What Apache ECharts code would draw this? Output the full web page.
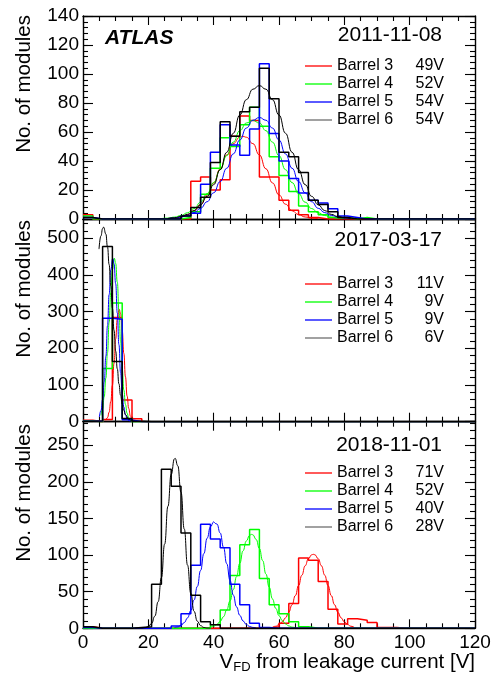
<!DOCTYPE html>
<html><head><meta charset="utf-8">
<script src="https://cdn.jsdelivr.net/npm/echarts@6/dist/echarts.min.js"></script>
<style>html,body{margin:0;padding:0;background:#fff;}#c{width:491px;height:682px;}</style>
</head><body><div id="c"></div>
<script>
// ---------- data ----------
const binLefts = [0,3,6,9,12,15,18,21,24,27,30,33,36,39,42,45,48,51,54,57,60,63,66,69,72,75,78,81,84,87,90,93,96,99,102,105,108,111,114,117];
const binWidth = 3;
const barrelNames = ['Barrel 3','Barrel 4','Barrel 5','Barrel 6'];
const dates = ['2011-11-08','2017-03-17','2018-11-01'];
const volts2011 = ['49V','52V','54V','54V'];
const volts2017 = ['11V','9V','9V','6V'];
const volts2018 = ['71V','52V','40V','28V'];
const yMaxes = [140, 552, 282];
const yMajorSteps = [20, 100, 50];

// histograms, 2011-11-08
const h2011_B3 = [3,0,0,0,0,0,0,0,0,0, 0,26,29,20,27,57,71,68,29,29, 13,6,3,1,0,0,0,0,0,0, 0,0,0,0,0,0,0,0,0,0];
const h2011_B4 = [2,0,0,0,0,0,0,0,0,0, 1,5,17,35,56,50,65,77,64,43, 30,19,9,5,3,1,1,0,1,0, 0,0,0,0,0,0,0,0,0,0];
const h2011_B5 = [1,0,0,0,0,0,0,0,0,0, 2,4,24,46,65,51,44,62,107,59, 40,28,18,13,11,7,2,1,0,0, 0,0,0,0,0,0,0,0,0,0];
const h2011_B6 = [1,0,0,0,0,0,0,0,0,0, 2,8,15,39,67,57,74,77,104,83, 46,43,32,13,10,5,1,0,0,0, 0,0,0,0,0,0,0,0,0,0];
// histograms, 2017-03-17
const h2017_B3 = [4,0,6,284,59,8,0,0,0,0, 0,0,0,0,0,0,0,0,0,0, 0,0,0,0,0,0,0,0,0,0, 0,0,0,0,0,0,0,0,0,0];
const h2017_B4 = [2,0,145,323,8,0,0,0,0,0, 0,0,0,0,0,0,0,0,0,0, 0,0,0,0,0,0,0,0,0,0, 0,0,0,0,0,0,0,0,0,0];
const h2017_B5 = [1,2,282,279,5,0,0,0,0,0, 0,0,0,0,0,0,0,0,0,0, 0,0,0,0,0,0,0,0,0,0, 0,0,0,0,0,0,0,0,0,0];
const h2017_B6 = [1,2,477,164,9,1,0,0,0,0, 0,0,0,0,0,0,0,0,0,0, 0,0,0,0,0,0,0,0,0,0, 0,0,0,0,0,0,0,0,0,0];
// histograms, 2018-11-01
const h2018_B3 = [2,0,0,0,0,0,0,0,0,0, 0,0,0,0,0,0,0,0,0,2, 7,34,96,93,64,26,6,13,11,8, 1,1,0,0,0,0,0,0,0,0];
const h2018_B4 = [0,0,0,0,0,0,0,0,0,0, 0,0,0,5,25,72,114,135,68,32, 20,9,2,0,0,0,0,0,0,0, 0,0,0,0,0,0,0,0,0,0];
const h2018_B5 = [1,0,0,0,0,0,0,0,0,3, 20,86,142,122,110,60,32,7,1,0, 0,0,0,0,0,0,0,0,0,0, 0,0,0,0,0,0,0,0,0,0];
const h2018_B6 = [2,0,0,0,0,1,2,60,217,194, 130,45,9,5,0,0,0,0,0,0, 0,0,0,0,0,0,0,0,0,0, 0,0,0,0,0,0,0,0,0,0];

// fitted curves (x, y)
const f2011_B3_x = [26,28,30,32,34,36,38,40,42,44,46,48,49,50,52,54,56,58,60,62,64,66,68,70,72];
const f2011_B3_y = [0.2,0.6,1.4,3.0,5.7,10.2,16.6,24.9,34.6,44.2,52.0,56.4,57,56.4,52.0,44.2,34.6,24.9,16.6,10.2,5.7,3.0,1.4,0.6,0.2];
const f2011_B4_x = [24,26,28,30,32,34,36,38,40,42,44,46,48,50,52,54,56,58,60,62,64,66,68,70,72,74,76,78,80];
const f2011_B4_y = [0.3,0.6,1.3,2.4,4.3,7.2,11.6,17.5,25.1,34.0,43.7,53.0,60.9,66.2,68,66.2,60.9,53.0,43.7,34.0,25.1,17.5,11.6,7.2,4.3,2.4,1.3,0.6,0.3];
const f2011_B5_x = [26,28,30,32,34,36,38,40,42,44,46,48,50,52,54,56,58,60,62,64,66,68,70,72,74,76,78,80,82];
const f2011_B5_y = [0.3,0.7,1.3,2.5,4.4,7.4,11.9,18.1,25.8,35.0,44.9,54.5,62.7,68.1,70,68.1,62.7,54.5,44.9,35.0,25.8,18.1,11.9,7.4,4.4,2.5,1.3,0.7,0.3];
const f2011_B6_x = [26,28,30,32,34,36,38,40,42,44,46,48,50,52,54,56,58,60,62,64,66,68,70,72,74,76,78,80,82];
const f2011_B6_y = [0.4,0.9,1.7,3.2,5.8,9.8,15.6,23.7,34.0,46.0,59.1,71.7,82.3,89.5,92,89.5,82.3,71.7,59.1,46.0,34.0,23.7,15.6,9.8,5.8,3.2,1.7,0.9,0.4];

const f2017_B3_x = [7,7.5,8,8.5,9,9.5,10,10.5,11.1,11.5,12,12.5,13,13.5,14,14.5,15,15.5,16];
const f2017_B3_y = [4,11,26,55,99,159,225,279,306,294,249,186,122,70,36,16,6,2,0.5];
const f2017_B4_x = [5.5,6,6.5,7,7.5,8,8.5,9,9.6,10,10.5,11,11.5,12,12.5,13,13.5,14,14.5,15];
const f2017_B4_y = [17,35,68,119,188,270,351,415,445,431,380,303,220,145,86,47,23,10,4,1.5];
const f2017_B5_x = [5,5.5,6,6.5,7,7.5,8,8.5,9.1,9.5,10,10.5,11,11.5,12,12.5,13,13.5,14,14.5];
const f2017_B5_y = [13,30,60,109,178,261,346,413,445,430,376,296,210,134,77,40,19,8,3,1];
const f2017_B6_x = [4.9,5.5,6,6.3,7,7.5,8,8.5,9,9.5,10,10.5,11,11.5,12,12.5,13,14,15,16];
const f2017_B6_y = [470,506,526,530,511,476,428,370,309,249,192,144,103,72,48,31,19,7,2,0.5];

const f2018_B3_x = [58,59,60,61,62,63,64,65,66,67,68,69,70,70.5,71,72,73,74,75,76,77,78,79,80,81,82,83];
const f2018_B3_y = [1.5,2.8,5.1,8.8,14.3,22.1,32.2,44.6,58.4,72.5,85.3,95,100.3,101,100.3,95,85.3,72.5,58.4,44.6,32.2,22.1,14.3,8.8,5.1,2.8,1.5];
const f2018_B4_x = [39,40,41,42,43,44,45,46,47,48,49,50,51,51.6,52,53,54,55,56,57,58,59,60,61,62,63,64,65];
const f2018_B4_y = [1.4,2.8,5.3,9.4,15.8,24.9,37.3,52.7,70.4,88.8,105.9,119.2,126.9,128.2,127.6,121.3,108.9,92.4,74.1,56.1,40.1,27.2,17.3,10.5,6.0,3.2,1.6,0.8];
const f2018_B5_x = [28,29,30,31,32,33,34,35,36,37,38,39,40,40.2,41,42,43,44,45,46,47,48,49,50,51,52,53];
const f2018_B5_y = [0.8,1.9,4.0,7.8,14.2,24.2,38.5,57.1,79,102,123,138.4,145.3,145.5,142.3,130.1,110.9,88.2,65.5,45.4,29.3,17.7,10,5.2,2.6,1.2,0.5];
const f2018_B6_x = [16,17,18,19,20,21,22,23,24,25,26,27,28,28.2,29,30,31,32,33,34,35,36,37,38,39];
const f2018_B6_y = [0,0.1,0.2,0.7,2.3,6.6,16.6,36.3,69.2,115,166.5,210.2,231.4,232,222,185.8,135.5,86.2,47.8,23.1,9.7,3.6,1.1,0.3,0.1];

// ---------- assembly ----------
const FONT = "'Liberation Sans', Arial, Helvetica, sans-serif";
const colors = ['#ff0000','#00ff00','#0000ff','#000000'];
const legendColors = ['#ff0000','#00ff00','#0000ff','#6e6e6e'];
const hists = [[h2011_B3,h2011_B4,h2011_B5,h2011_B6],[h2017_B3,h2017_B4,h2017_B5,h2017_B6],[h2018_B3,h2018_B4,h2018_B5,h2018_B6]];
const fits = [
  [[f2011_B3_x,f2011_B3_y],[f2011_B4_x,f2011_B4_y],[f2011_B5_x,f2011_B5_y],[f2011_B6_x,f2011_B6_y]],
  [[f2017_B3_x,f2017_B3_y],[f2017_B4_x,f2017_B4_y],[f2017_B5_x,f2017_B5_y],[f2017_B6_x,f2017_B6_y]],
  [[f2018_B3_x,f2018_B3_y],[f2018_B4_x,f2018_B4_y],[f2018_B5_x,f2018_B5_y],[f2018_B6_x,f2018_B6_y]]
];
const volts = [volts2011, volts2017, volts2018];
const xMax = binLefts[binLefts.length-1] + binWidth;

const gridTops = [16, 219, 421.7];
const gridHeights = [203, 202.7, 206.6];
const legendTops = [58, 276, 465];
const dateYs = [35, 240, 445];
const titleYs = [15, 220, 424];

function histPoints(c){ const p = binLefts.map((x,i)=>[x,c[i]]); p.push([xMax,0]); return p; }
function fitPoints(f){ return f[0].map((x,i)=>[x,f[1][i]]); }

const grid=[], xAxis=[], yAxis=[], series=[], legend=[], graphic=[];
const tickLS = {color:'#000', width:1.1};
for (let g=0; g<3; g++){
  grid.push({left:83, width:392, top:gridTops[g], height:gridHeights[g], outerBoundsMode:'none', containLabel:false});
  ['bottom','top'].forEach(pos=>{
    xAxis.push({gridIndex:g, type:'value', min:0, max:xMax, interval:20, position:pos,
      axisLine:{show:true, onZero:false, lineStyle:{color:'#000', width:1.4}},
      axisTick:{show:true, inside:true, length:9, lineStyle:tickLS},
      minorTick:{show:true, splitNumber:4, length:5, lineStyle:tickLS},
      splitLine:{show:false}, minorSplitLine:{show:false},
      axisLabel:{show:(g===2 && pos==='bottom'), margin:5, fontSize:19, color:'#000', fontFamily:FONT}});
  });
  ['left','right'].forEach(pos=>{
    yAxis.push({gridIndex:g, type:'value', min:0, max:yMaxes[g], interval:yMajorSteps[g], position:pos,
      axisLine:{show:true, onZero:false, lineStyle:{color:'#000', width:1.4}},
      axisTick:{show:true, inside:true, length:10, lineStyle:tickLS},
      splitLine:{show:false},
      axisLabel:{show:pos==='left', margin:4, fontSize:19, color:'#000', fontFamily:FONT, showMaxLabel:g===0}});
    yAxis.push({gridIndex:g, type:'value', min:0, max:yMaxes[g], interval:yMajorSteps[g]/5, position:pos,
      axisLine:{show:false, onZero:false},
      axisTick:{show:true, inside:true, length:5, lineStyle:tickLS},
      splitLine:{show:false}, axisLabel:{show:false}});
  });
  for (let b=0; b<4; b++){
    series.push({type:'line', name:barrelNames[b], xAxisIndex:g*2, yAxisIndex:g*4, data:histPoints(hists[g][b]),
      step:'end', symbol:'none', silent:true, lineStyle:{color:colors[b], width:1.5}, itemStyle:{color:colors[b]}});
    series.push({type:'line', name:barrelNames[b], xAxisIndex:g*2, yAxisIndex:g*4, data:fitPoints(fits[g][b]),
      smooth:true, smoothMonotone:'x', symbol:'none', silent:true, lineStyle:{color:colors[b], width:1}, itemStyle:{color:colors[b]}});
  }
  const vv = volts[g];
  legend.push({orient:'vertical', left:305, top:legendTops[g], padding:0, itemWidth:27, itemHeight:1.3, itemGap:2, icon:'rect', selectedMode:false,
    data:barrelNames.map((n,b)=>({name:n, icon:'rect', itemStyle:{color:legendColors[b], borderWidth:0}})),
    formatter:(n)=>'{n|'+n+'}{v|'+vv[barrelNames.indexOf(n)]+'}',
    textStyle:{fontFamily:FONT, fontSize:16, color:'#000', lineHeight:14,
      rich:{n:{width:76, fontSize:16, fontFamily:FONT, lineHeight:14}, v:{width:31, align:'right', fontSize:16, fontFamily:FONT, lineHeight:14}}}});
  graphic.push({type:'text', x:442, y:dateYs[g], silent:true,
    style:{text:dates[g], align:'right', verticalAlign:'middle', fontSize:21, fontFamily:FONT, fill:'#000'}});
  graphic.push({type:'text', x:24, y:titleYs[g], rotation:Math.PI/2, silent:true,
    style:{text:'No. of modules', align:'right', verticalAlign:'middle', fontSize:20.5, fontFamily:FONT, fill:'#000'}});
}
graphic.push({type:'text', x:105, y:38, silent:true,
  style:{text:'ATLAS', align:'left', verticalAlign:'middle', fontSize:21, fontWeight:'bold', fontStyle:'italic', fontFamily:FONT, fill:'#000'}});
graphic.push({type:'text', x:475, y:662, silent:true,
  style:{text:'{a|V}{b|FD}{a| from leakage current [V]}', align:'right', verticalAlign:'middle', fill:'#000',
    rich:{a:{fontSize:20.5, fontFamily:FONT, lineHeight:24, verticalAlign:'middle'}, b:{fontSize:13, fontFamily:FONT, lineHeight:13, verticalAlign:'bottom'}}}});

const chart = echarts.init(document.getElementById('c'), null, {renderer:'canvas'});
chart.setOption({animation:false, backgroundColor:'#fff', grid, xAxis, yAxis, series, legend, graphic});
</script></body></html>
